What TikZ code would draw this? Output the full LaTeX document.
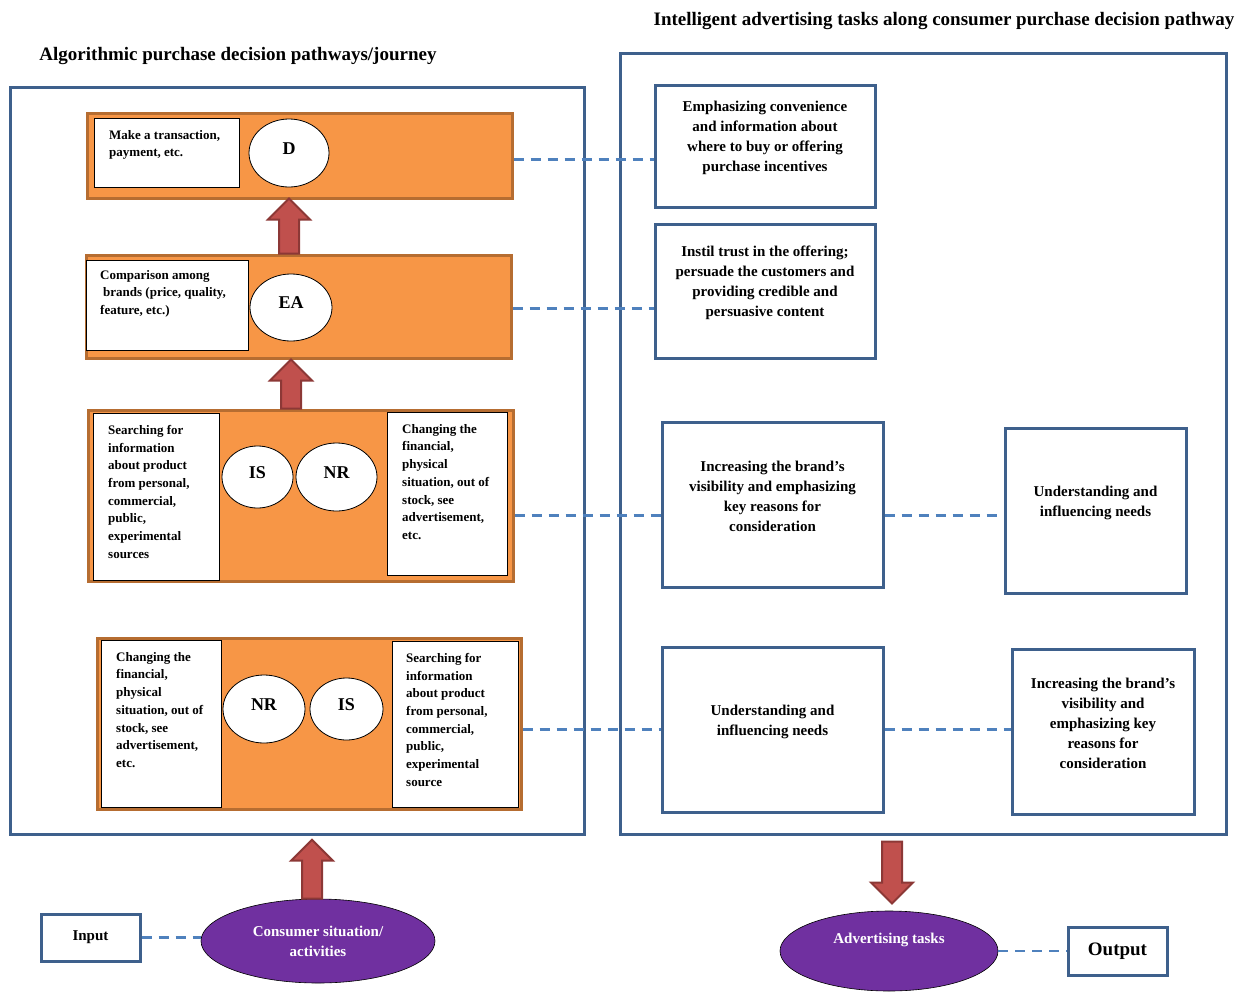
\documentclass[tikz,border=0pt]{standalone}
\usepackage{fontspec}
\setmainfont{Liberation Serif}
\usepackage{tikz}
\usetikzlibrary{calc}
\usetikzlibrary{positioning}
\usetikzlibrary{shapes}

\definecolor{panelblue}{RGB}{62,96,140}
\definecolor{linkblue}{RGB}{79,129,189}
\definecolor{stageorange}{RGB}{247,150,70}
\definecolor{stageedge}{RGB}{182,109,49}
\definecolor{arrowred}{RGB}{192,80,77}
\definecolor{arrowedge}{RGB}{140,56,54}
\definecolor{blobpurple}{RGB}{112,48,160}

\tikzset{
  panel/.style={draw=panelblue, line width=3pt},
  stage/.style={draw=stageedge, fill=stageorange, line width=3pt},
  note/.style={draw=black, fill=white, line width=0.8pt},
  notetext/.style={anchor=north west, inner sep=0pt, align=left, font=\bfseries\fontsize{13}{17.7}\selectfont},
  tag/.style={ellipse, draw=black, fill=white, line width=0.8pt, text depth=9pt, font=\bfseries\fontsize{18}{20}\selectfont},
  task/.style={draw=panelblue, fill=white, line width=3pt},
  tasktext/.style={align=center, inner sep=0pt, font=\bfseries\fontsize{15}{20}\selectfont},
  blob/.style={ellipse, draw=black, fill=blobpurple, line width=0.6pt},
  blobtext/.style={align=center, inner sep=0pt, text=white, font=\bfseries\fontsize{15}{20}\selectfont},
  link/.style={draw=linkblue, line width=2.5pt, dash pattern=on 10pt off 7pt},
  fatarrow/.style={draw=arrowedge, fill=arrowred, line width=2pt},
  pics/fatup/.style={code={
    \draw[fatarrow] (-10,0) -- (-10,-#1+21) -- (-21,-#1+21) -- (0,-#1) -- (21,-#1+21) -- (10,-#1+21) -- (10,0) -- cycle;
  }},
}

\begin{document}
\begin{tikzpicture}[x=1pt, y=-1pt]
	\useasboundingbox (0,0) rectangle (1240,991);

	% headings
	\node[font=\bfseries\fontsize{19}{22}\selectfont] (lefttitle) at (238,56) {Algorithmic purchase decision pathways/journey};
	\node[font=\bfseries\fontsize{19}{22}\selectfont] (righttitle) at (944,21) {Intelligent advertising tasks along consumer purchase decision pathway};

	% the two frames
	\node[panel, minimum width=574, minimum height=747] (leftpanel) at (297,460.5) {};
	\node[panel, minimum width=606, minimum height=781] (rightpanel) at (923,443.5) {};

	% decision stages
	\node[stage, minimum width=425, minimum height=85] (dbar) at (299.5,155.5) {};
	\node[stage, minimum width=425, minimum height=103] (eabar) at (298.5,306.5) {};
	\node[stage, minimum width=425, minimum height=171] (isbar) at (300.5,495.5) {};
	\node[stage, minimum width=424, minimum height=171] (nrbar) at (309,723.5) {};

	\node[note, minimum width=145, minimum height=69] (dnote) at (166.5,152.5) {};
	\node[note, minimum width=162, minimum height=90] (eanote) at (167,305) {};
	\node[note, minimum width=126, minimum height=167] (isnote) at (156,496.5) {};
	\node[note, minimum width=120, minimum height=163] (nrnote) at (447,493.5) {};
	\node[note, minimum width=120, minimum height=167] (nrnoteb) at (161,723.5) {};
	\node[note, minimum width=126, minimum height=166] (isnoteb) at (455,724) {};

	\node[notetext] (dtext) at (109,130) {Make a transaction,\\payment, etc.};
	\node[notetext] (eatext) at (100,270) {Comparison among\\\hspace*{3pt}brands (price, quality,\\feature, etc.)};
	\node[notetext] (istext) at (108,425) {Searching for\\information\\about product\\from personal,\\commercial,\\public,\\experimental\\sources};
	\node[notetext] (nrtext) at (402,424) {Changing the\\financial,\\physical\\situation, out of\\stock, see\\advertisement,\\etc.};
	\node[notetext] (nrtextb) at (116,652) {Changing the\\financial,\\physical\\situation, out of\\stock, see\\advertisement,\\etc.};
	\node[notetext] (istextb) at (406,653) {Searching for\\information\\about product\\from personal,\\commercial,\\public,\\experimental\\source};

	\node[tag, minimum width=80, minimum height=68] (dtag) at (289,153) {D};
	\node[tag, minimum width=82, minimum height=67] (eatag) at (291,307.5) {EA};
	\node[tag, minimum width=71, minimum height=62] (istag) at (257.5,477) {IS};
	\node[tag, minimum width=81, minimum height=68] (nrtag) at (336.5,477) {NR};
	\node[tag, minimum width=82, minimum height=68] (nrtagb) at (264,709) {NR};
	\node[tag, minimum width=73, minimum height=62] (istagb) at (346.5,709) {IS};

	\pic at (dtag.south |- eabar.north) {fatup=55};
	\pic at (eatag.south |- isbar.north) {fatup=49};

	% advertising tasks
	\node[task, minimum width=220, minimum height=122] (convbox) at (765,146) {};
	\node[task, minimum width=220, minimum height=134] (trustbox) at (765,291) {};
	\node[task, minimum width=221, minimum height=165] (visbox) at (772.5,504.5) {};
	\node[task, minimum width=181, minimum height=165] (needbox) at (1095.5,510.5) {};
	\node[task, minimum width=221, minimum height=165] (needboxb) at (772.5,729.5) {};
	\node[task, minimum width=182, minimum height=165] (visboxb) at (1103,731.5) {};

	\node[tasktext] (convtext) at ([yshift=8]convbox.center) {Emphasizing convenience\\and information about\\where to buy or offering\\purchase incentives};
	\node[tasktext] (trusttext) at ([yshift=8]trustbox.center) {Instil trust in the offering;\\persuade the customers and\\providing credible and\\persuasive content};
	\node[tasktext] (vistext) at ([yshift=8]visbox.center) {Increasing the brand’s\\visibility and emphasizing\\key reasons for\\consideration};
	\node[tasktext] (needtext) at ([yshift=8]needbox.center) {Understanding and\\influencing needs};
	\node[tasktext] (needtextb) at ([yshift=8]needboxb.center) {Understanding and\\influencing needs};
	\node[tasktext] (vistextb) at ([yshift=8]visboxb.center) {Increasing the brand’s\\visibility and\\emphasizing key\\reasons for\\consideration};

	\coordinate (dout) at ([yshift=-4]dbar.east);
	\coordinate (eaout) at ([yshift=-2]eabar.east);
	\coordinate (isout) at ([yshift=-20]isbar.east);
	\coordinate (nrout) at ([yshift=-6]nrbar.east);

	\draw[link] (dout) -- (dout -| convbox.west);
	\draw[link] (eaout) -- (eaout -| trustbox.west);
	\draw[link] (isout) -- (isout -| visbox.west);
	\draw[link] (visbox.east |- isout) -- (needbox.west |- isout);
	\draw[link] (nrout) -- (nrout -| needboxb.west);
	\draw[link] (needboxb.east |- nrout) -- (visboxb.west |- nrout);

	% input / output
	\node[task, minimum width=99, minimum height=47, font=\bfseries\fontsize{15}{18}\selectfont] (input) at (90.5,937.5) {Input};
	\node[blob, minimum width=234, minimum height=84, align=center, text=white, font=\bfseries\fontsize{15}{20}\selectfont] (consumer) at (318,941) {Consumer situation/\\activities};
	\node[blob, minimum width=218, minimum height=80] (adtask) at (889,951) {};
	\node[blobtext] (adtext) at ([yshift=11]adtask.center) {Advertising tasks};
	\node[task, minimum width=99, minimum height=48, font=\bfseries\fontsize{19}{22}\selectfont] (output) at (1117.5,951) {Output};

	\draw[link] (input.east) -- (input.east -| consumer.west);
	\draw[link] (adtask.east) -- (output.west);

	\pic at (consumer.north -| 312,0) {fatup=59};
	\pic[yscale=-1] at ($(adtask.north |- rightpanel.south)+(3,6)$) {fatup=62};
\end{tikzpicture}
\end{document}
